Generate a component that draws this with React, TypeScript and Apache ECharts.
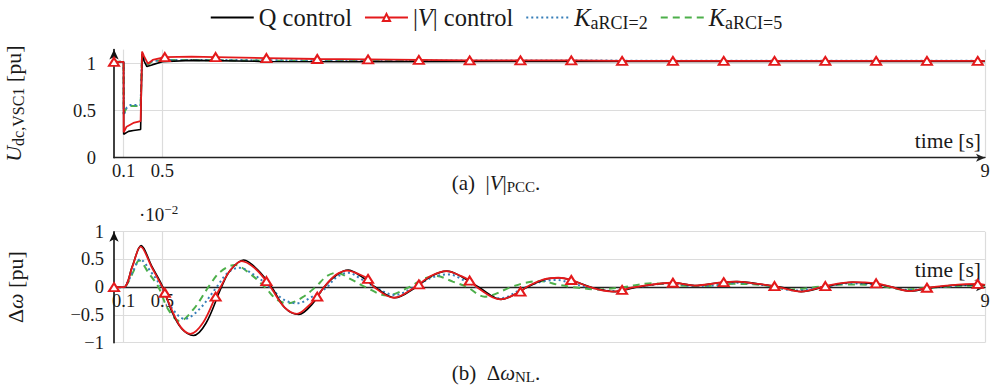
import React, { useEffect, useRef } from 'react';
import * as echarts from 'echarts';

const FONT = "'Liberation Serif', serif";
const TXT = '#1a1a1a';

// legend / series names
const seriesNames = ['Q control', '|V| control', 'K_aRCI=2', 'K_aRCI=5'];
const seriesColors = ['#000000', '#e41a1c', '#377eb8', '#4daf4a'];

// x-axis tick labels
const xTicks = [0.1, 0.5, 9];
const yTicksTop = [0, 0.5, 1];
const yTicksBottom = [-1, -0.5, 0, 0.5, 1];

// red marker times
const markerTimes = [0, 0.525, 1.05, 1.575, 2.1, 2.625, 3.15, 3.675, 4.2, 4.725, 5.25, 5.775, 6.3, 6.825, 7.35, 7.875, 8.4, 8.925];

// (a) U_dc,VSC1 [pu]
const topQ = [[0, 1.02], [0.099, 1.02], [0.1, 0.25], [0.15, 0.28], [0.2, 0.29], [0.275, 0.3], [0.29, 1.1], [0.31, 1.03], [0.34, 0.97], [0.4, 0.99], [0.5, 1.02], [0.8, 1.035], [1.5, 1.025], [2.5, 1.02], [4, 1.025], [6, 1.025], [9, 1.025]];
const topV = [[0, 1.02], [0.099, 1.02], [0.1, 0.27], [0.13, 0.33], [0.2, 0.37], [0.275, 0.39], [0.29, 1.13], [0.31, 1.08], [0.35, 1.0], [0.4, 1.04], [0.525, 1.07], [0.8, 1.075], [1.05, 1.07], [1.575, 1.06], [2.1, 1.05], [2.625, 1.045], [3.15, 1.04], [3.675, 1.035], [4.2, 1.035], [4.725, 1.035], [5.25, 1.03], [5.775, 1.03], [6.3, 1.03], [6.825, 1.03], [7.35, 1.03], [7.875, 1.03], [8.4, 1.03], [8.925, 1.03], [9, 1.03]];
const topK2 = [[0, 1.02], [0.099, 1.02], [0.1, 0.45], [0.13, 0.53], [0.17, 0.56], [0.275, 0.56], [0.29, 1.12], [0.31, 1.06], [0.35, 1.0], [0.4, 1.03], [0.6, 1.04], [1.0, 1.04], [2, 1.035], [9, 1.03]];
const topK5 = [[0, 1.02], [0.099, 1.02], [0.1, 0.47], [0.13, 0.53], [0.17, 0.55], [0.275, 0.55], [0.29, 1.1], [0.31, 1.05], [0.35, 0.99], [0.4, 1.03], [0.6, 1.04], [2, 1.03], [9, 1.03]];

// (b) Δω [pu] (×10^-2)
const botQ = [[0, 0], [0.1, 0], [0.19, 0.38], [0.28, 0.75], [0.39, 0.38], [0.5, 0.02], [0.6, -0.45], [0.7, -0.75], [0.82, -0.87], [0.95, -0.65], [1.11, 0], [1.2, 0.3], [1.34, 0.49], [1.48, 0.32], [1.63, 0], [1.77, -0.38], [1.91, -0.49], [2.05, -0.3], [2.17, 0], [2.3, 0.22], [2.42, 0.31], [2.55, 0.2], [2.7, 0], [2.9, -0.19], [3.12, 0], [3.28, 0.2], [3.44, 0.29], [3.6, 0.18], [3.77, 0], [4.0, -0.22], [4.27, 0], [4.45, 0.14], [4.6, 0.17], [4.77, 0.1], [4.93, 0], [5.18, -0.08], [5.4, 0], [5.78, 0.08], [6.0, 0.03], [6.25, 0.08], [6.44, 0.1], [6.7, 0.05], [6.9, 0], [7.1, -0.08], [7.35, 0.01], [7.63, 0.09], [7.9, 0.05], [8.05, 0], [8.23, -0.07], [8.45, -0.01], [8.7, 0.04], [8.95, 0.05], [9, 0.04]];
const botV = [[0, 0], [0.1, 0], [0.19, 0.37], [0.275, 0.73], [0.39, 0.36], [0.5, 0], [0.525, -0.1], [0.6, -0.42], [0.69, -0.72], [0.79, -0.84], [0.92, -0.64], [1.05, -0.17], [1.1, 0], [1.2, 0.3], [1.32, 0.47], [1.45, 0.35], [1.575, 0.11], [1.62, 0], [1.76, -0.36], [1.89, -0.48], [2.02, -0.32], [2.1, -0.17], [2.17, 0], [2.29, 0.22], [2.41, 0.3], [2.525, 0.24], [2.625, 0.15], [2.69, 0], [2.89, -0.19], [3.11, 0], [3.15, 0.05], [3.27, 0.2], [3.43, 0.29], [3.59, 0.2], [3.675, 0.12], [3.75, 0], [3.99, -0.22], [4.2, -0.08], [4.26, 0], [4.44, 0.14], [4.59, 0.17], [4.725, 0.13], [4.92, 0], [5.16, -0.08], [5.25, -0.05], [5.38, 0], [5.775, 0.08], [6.0, 0.03], [6.3, 0.09], [6.43, 0.1], [6.6, 0.07], [6.825, 0.02], [7.1, -0.08], [7.35, 0.02], [7.63, 0.09], [7.875, 0.07], [8.0, 0.02], [8.22, -0.07], [8.4, -0.01], [8.6, 0.03], [8.925, 0.06], [9, 0.04]];
const botK2 = [[0, 0], [0.1, 0], [0.15, 0.12], [0.2, 0.3], [0.27, 0.5], [0.38, 0.28], [0.49, 0], [0.6, -0.38], [0.73, -0.57], [0.88, -0.4], [1.06, 0], [1.17, 0.25], [1.29, 0.35], [1.45, 0.22], [1.61, 0], [1.75, -0.22], [1.89, -0.29], [2.05, -0.17], [2.2, 0], [2.3, 0.18], [2.42, 0.26], [2.56, 0.14], [2.7, 0], [2.9, -0.14], [3.1, 0], [3.28, 0.17], [3.46, 0.23], [3.62, 0.12], [3.75, 0], [3.99, -0.2], [4.25, 0], [4.42, 0.1], [4.57, 0.13], [4.75, 0.06], [4.9, 0], [5.15, -0.07], [5.4, 0], [5.75, 0.07], [6.0, 0.02], [6.2, 0.03], [6.45, 0.08], [6.75, 0.03], [7.05, -0.06], [7.35, 0.01], [7.6, 0.07], [7.95, 0.03], [8.2, -0.05], [8.5, 0], [8.9, 0.04], [9, 0.03]];
const botK5 = [[0, 0], [0.1, 0], [0.15, 0.1], [0.2, 0.28], [0.26, 0.48], [0.36, 0.25], [0.46, 0], [0.56, -0.4], [0.68, -0.61], [0.82, -0.4], [0.975, 0], [1.1, 0.28], [1.25, 0.4], [1.4, 0.25], [1.56, 0], [1.68, -0.22], [1.8, -0.29], [1.95, -0.18], [2.08, 0], [2.2, 0.2], [2.3, 0.26], [2.45, 0.14], [2.6, 0], [2.82, -0.15], [3.05, 0], [3.2, 0.15], [3.33, 0.2], [3.5, 0.1], [3.65, 0], [3.83, -0.17], [4.1, 0], [4.25, 0.08], [4.4, 0.11], [4.6, 0.04], [4.75, 0], [5.0, -0.04], [5.25, 0], [5.57, 0.07], [5.85, 0.03], [6.1, 0.02], [6.4, 0.06], [6.7, 0.04], [7.0, -0.04], [7.3, 0.01], [7.55, 0.05], [7.9, 0.03], [8.15, -0.04], [8.5, 0], [8.9, 0.03], [9, 0.03]];

const isMarker = (t: number) => markerTimes.some((m) => Math.abs(m - t) < 1e-6);
const withMarkers = (pts: number[][]) =>
  pts.map((p) => (isMarker(p[0]) ? { value: p } : { value: p, symbol: 'none' }));

const tickText = { fontFamily: FONT, fontSize: 18.5, color: TXT };
const bigText = { fontFamily: FONT, fontSize: 21, color: TXT };
const mkRich = (size: number) => ({
  n: { fontFamily: FONT, fontSize: size, color: TXT },
  i: { fontFamily: FONT, fontSize: size, fontStyle: 'italic', color: TXT },
  s: { fontFamily: FONT, fontSize: Math.round(size * 0.72), color: TXT, padding: [Math.round(size * 0.4), 0, 0, 0] },
  sup: { fontFamily: FONT, fontSize: Math.round(size * 0.7), color: TXT, padding: [0, 0, Math.round(size * 0.5), 0] },
});

function xAxisCfg(gridIndex: number, offset: number) {
  return {
    type: 'value',
    gridIndex,
    min: 0,
    max: 9,
    position: 'bottom',
    offset,
    name: 'time [s]',
    nameLocation: 'end',
    nameGap: -4,
    nameTextStyle: { ...bigText, fontSize: 21.5, align: 'right', verticalAlign: 'bottom', padding: [0, 0, 6, 0] },
    axisLine: { show: true, onZero: false, lineStyle: { color: '#222', width: 1.3 }, symbol: ['none', 'arrow'], symbolSize: [6, 9] },
    axisTick: { show: false, customValues: xTicks },
    axisLabel: { ...tickText, margin: 4, customValues: xTicks, formatter: (v: number) => String(v) },
    splitLine: { show: true, lineStyle: { color: '#dcdcdc', width: 1.2 } },
  };
}

export default function App() {
  const ref = useRef<HTMLDivElement>(null);
  useEffect(() => {
    if (!ref.current) return;
    const chart = echarts.init(ref.current, null, { renderer: 'svg' });
    const lineSeries = (idx: number, xi: number, data: any) => {
      const base: any = {
        name: seriesNames[idx],
        type: 'line',
        xAxisIndex: xi,
        yAxisIndex: xi,
        data,
        symbol: 'none',
        z: 10 - idx,
        lineStyle: { color: seriesColors[idx], width: 1.6 },
        itemStyle: { color: seriesColors[idx] },
        smooth: xi === 1 ? 0.35 : false,
      };
      if (idx === 1) {
        base.symbol = 'emptyTriangle';
        base.symbolSize = [10, 8];
        base.showSymbol = true;
        base.showAllSymbol = true;
        base.itemStyle = { color: seriesColors[1], borderColor: seriesColors[1], borderWidth: 1.2 };
        base.lineStyle = { color: seriesColors[1], width: 1.8 };
        base.z = 11;
      }
      if (idx === 2) base.lineStyle = { color: seriesColors[2], width: 2, type: [2, 3] };
      if (idx === 3) base.lineStyle = { color: seriesColors[3], width: 2, type: [7, 5] };
      return base;
    };
    chart.setOption({
      animation: false,
      backgroundColor: '#ffffff',
      textStyle: { fontFamily: FONT },
      legend: {
        data: seriesNames.map((n, i) => (i === 1 ? { name: n } : { name: n, itemStyle: { opacity: 0 } })),
        left: 'center',
        top: 0,
        itemWidth: 43,
        itemHeight: 9,
        itemGap: 12,
        textStyle: { ...bigText, fontSize: 24.5, rich: mkRich(24.5) },
        formatter: (name: string) => {
          if (name === '|V| control') return '{n||}{i|V}{n|| control}';
          if (name === 'K_aRCI=2') return '{i|K}{s|aRCI=2}';
          if (name === 'K_aRCI=5') return '{i|K}{s|aRCI=5}';
          return '{n|' + name + '}';
        },
      },
      title: [
        { text: '{n|(a)  |}{i|V}{n||}{s|PCC}{n|.}', left: 'center', top: 171, padding: 0, textStyle: { ...bigText, fontWeight: 'normal', rich: mkRich(21) } },
        { text: '{n|(b)  Δ}{i|ω}{s|NL}{n|.}', left: 'center', top: 361, padding: 0, textStyle: { ...bigText, fontWeight: 'normal', rich: mkRich(21) } },
      ],
      graphic: [
        { type: 'text', left: 139, top: 203, style: { text: '{n|·10}{sup|−2}', font: `19px ${FONT}`, fill: TXT, rich: mkRich(19) } },
      ],
      grid: [
        { left: 114, right: 7, top: 49.6, height: 108.1, outerBoundsMode: 'none', containLabel: false },
        { left: 114, right: 7, top: 231.7, height: 111, outerBoundsMode: 'none', containLabel: false },
      ],
      xAxis: [xAxisCfg(0, 0), xAxisCfg(1, -55.5)],
      yAxis: [
        {
          type: 'value', gridIndex: 0, min: 0, max: 1.15,
          name: '{i|U}{s|dc,VSC1}{n| [pu]}',
          nameLocation: 'middle', nameRotate: 90, nameGap: 88,
          nameTextStyle: { ...bigText, rich: mkRich(22) },
          axisLine: { show: true, onZero: false, lineStyle: { color: '#111', width: 1.6 }, symbol: ['none', 'arrow'], symbolSize: [7, 10] },
          axisTick: { show: false, customValues: yTicksTop },
          axisLabel: { ...tickText, margin: 18, customValues: yTicksTop, formatter: (v: number) => String(v) },
          splitLine: { show: true, lineStyle: { color: '#dcdcdc', width: 1.2 } },
        },
        {
          type: 'value', gridIndex: 1, min: -1, max: 1,
          name: '{n|Δ}{i|ω}{n| [pu]}',
          nameLocation: 'middle', nameRotate: 90, nameGap: 88,
          nameTextStyle: { ...bigText, rich: mkRich(22) },
          axisLine: { show: true, onZero: false, lineStyle: { color: '#111', width: 1.6 }, symbol: ['none', 'arrow'], symbolSize: [7, 10] },
          axisTick: { show: false, customValues: yTicksBottom },
          axisLabel: { ...tickText, margin: 10, customValues: yTicksBottom, formatter: (v: number) => (v < 0 ? '−' + String(-v) : String(v)) },
          splitLine: { show: true, lineStyle: { color: '#dcdcdc', width: 1.2 } },
        },
      ],
      series: [
        lineSeries(0, 0, topQ),
        lineSeries(1, 0, withMarkers(topV)),
        lineSeries(2, 0, topK2),
        lineSeries(3, 0, topK5),
        lineSeries(0, 1, botQ),
        lineSeries(1, 1, withMarkers(botV)),
        lineSeries(2, 1, botK2),
        lineSeries(3, 1, botK5),
      ],
    });
    return () => chart.dispose();
  }, []);
  return <div ref={ref} style={{ position: 'fixed', left: 0, top: 0, width: 992, height: 386 }} />;
}
